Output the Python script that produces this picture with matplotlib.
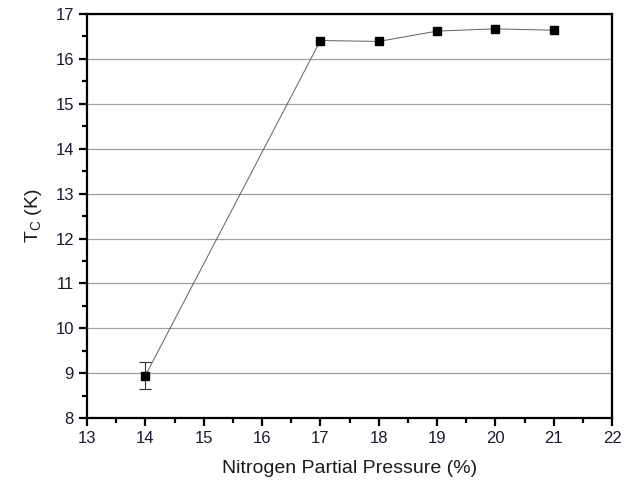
import matplotlib
matplotlib.use("Agg")
import matplotlib.pyplot as plt
from matplotlib.ticker import MultipleLocator

plt.rcParams['font.family'] = ['Liberation Sans', 'DejaVu Sans']

# data
pressure = [14, 17, 18, 19, 20, 21]
tc = [8.95, 16.41, 16.39, 16.62, 16.67, 16.64]
tc_err = [0.29, 0.0, 0.0, 0.0, 0.0, 0.0]

fig = plt.figure(figsize=(6.31, 4.84), dpi=100)
ax = fig.add_axes([0.138, 0.136, 0.832, 0.835])

ax.set_axisbelow(True)
ax.yaxis.grid(True, color='#a0a0a0', linewidth=0.9)

ax.plot(pressure, tc, color='#606060', linewidth=0.7, marker='s', markersize=6,
        markerfacecolor='black', markeredgecolor='black', zorder=3)

# only draw the error bars that are big enough to see
ex = [p for p, e in zip(pressure, tc_err) if e > 0]
ey = [t for t, e in zip(tc, tc_err) if e > 0]
ee = [e for e in tc_err if e > 0]
ax.errorbar(ex, ey, yerr=ee, fmt='none', ecolor='#303030', elinewidth=0.8,
            capsize=4, capthick=0.8, zorder=2)

ax.set_xlim(13, 22)
ax.set_ylim(8, 17)
ax.xaxis.set_major_locator(MultipleLocator(1))
ax.xaxis.set_minor_locator(MultipleLocator(0.5))
ax.yaxis.set_major_locator(MultipleLocator(1))
ax.yaxis.set_minor_locator(MultipleLocator(0.5))

for s in ax.spines.values():
    s.set_linewidth(1.6)
ax.tick_params(which='major', direction='out', length=6, width=1.6, labelsize=12,
               labelcolor='#1a1a2e')
ax.tick_params(which='minor', direction='out', length=3.5, width=1.6)

ax.set_xlabel('Nitrogen Partial Pressure (%)', fontsize=14, color='#1a1a1a', labelpad=10)
ax.set_ylabel(r'T$_\mathregular{C}$ (K)', fontsize=14, color='#1a1a1a', labelpad=8)

fig.savefig('out.png', dpi=100)
